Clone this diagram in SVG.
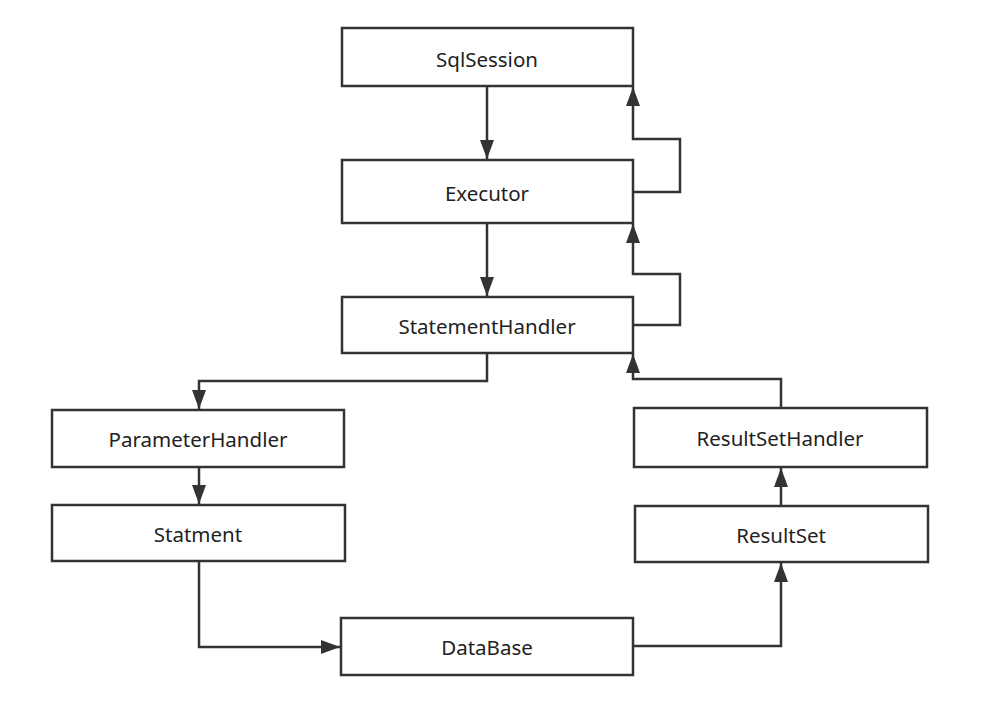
<svg xmlns="http://www.w3.org/2000/svg" width="988" height="717" viewBox="0 0 988 717">
<style>
.box{fill:#fff;stroke:#333;stroke-width:2.5}
.lbl{font-family:"Noto Sans","Open Sans",sans-serif;font-size:20.5px;fill:#222;text-anchor:middle;dominant-baseline:central}
.ln{fill:none;stroke:#333;stroke-width:2.5}
</style>
<defs>
<marker id="ah" viewBox="0 0 19 14" refX="19" refY="7" markerWidth="19" markerHeight="14" markerUnits="userSpaceOnUse" orient="auto">
<path d="M0,0 L19,7 L0,14 Z" fill="#333"/>
</marker>
</defs>
<rect width="988" height="717" fill="#fff"/>
<g id="connectors">
<path class="ln" d="M487,86 V159" marker-end="url(#ah)"/>
<path class="ln" d="M487,223 V296" marker-end="url(#ah)"/>
<path class="ln" d="M633,192 H680 V139 H633 V87" marker-end="url(#ah)"/>
<path class="ln" d="M633,325 H680 V274 H633 V224" marker-end="url(#ah)"/>
<path class="ln" d="M487,353 V381 H199 V409" marker-end="url(#ah)"/>
<path class="ln" d="M199,467 V504" marker-end="url(#ah)"/>
<path class="ln" d="M199,561 V647 H340" marker-end="url(#ah)"/>
<path class="ln" d="M633,646 H781 V563" marker-end="url(#ah)"/>
<path class="ln" d="M781,505 V468" marker-end="url(#ah)"/>
<path class="ln" d="M781,408 V379 H633 V354" marker-end="url(#ah)"/>
</g>
<g id="SqlSession"><rect class="box" x="342" y="28" width="291" height="58"/><text class="lbl" x="487" y="59">SqlSession</text></g>
<g id="Executor"><rect class="box" x="342" y="160" width="291" height="63"/><text class="lbl" x="487" y="193">Executor</text></g>
<g id="StatementHandler"><rect class="box" x="342" y="297" width="291" height="56"/><text class="lbl" x="487" y="326">StatementHandler</text></g>
<g id="ParameterHandler"><rect class="box" x="52" y="410" width="292" height="57"/><text class="lbl" x="198" y="439">ParameterHandler</text></g>
<g id="Statment"><rect class="box" x="52" y="505" width="293" height="56"/><text class="lbl" x="198" y="534">Statment</text></g>
<g id="ResultSetHandler"><rect class="box" x="634" y="408" width="293" height="59"/><text class="lbl" x="780" y="438">ResultSetHandler</text></g>
<g id="ResultSet"><rect class="box" x="635" y="506" width="293" height="56"/><text class="lbl" x="781" y="535">ResultSet</text></g>
<g id="DataBase"><rect class="box" x="341" y="618" width="292" height="57"/><text class="lbl" x="487" y="647">DataBase</text></g>
</svg>
